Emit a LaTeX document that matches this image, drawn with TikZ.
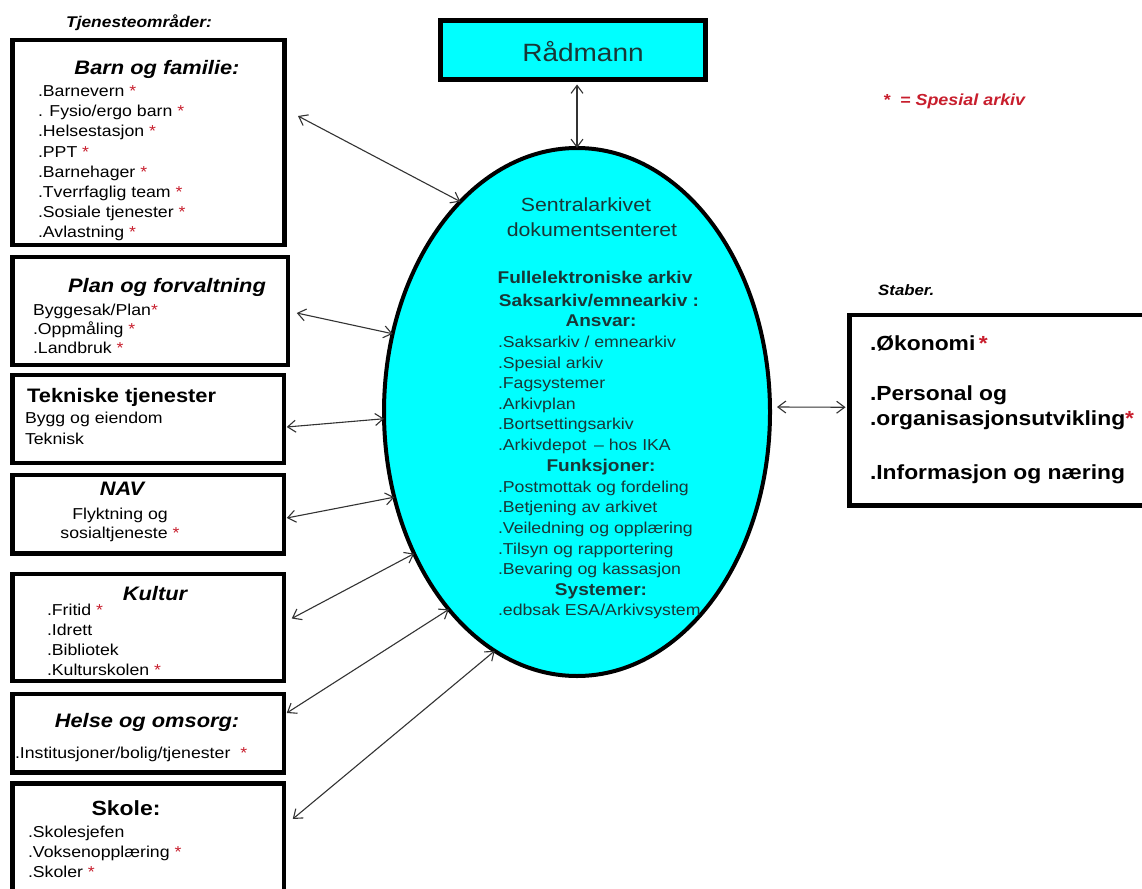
\documentclass[tikz,border=0pt]{standalone}
\usepackage{fontspec}
\setmainfont{Liberation Sans}[FakeStretch=1.12]
\usetikzlibrary{shapes.geometric,arrows.meta}
\definecolor{cyanfill}{RGB}{0,255,255}
\definecolor{specred}{RGB}{200,30,45}
\definecolor{elltext}{RGB}{25,55,55}
\newcommand{\redstar}{\textcolor{specred}{*}}
\tikzset{
  box/.style={draw=black, line width=4.5pt, inner sep=0pt, outer sep=0pt, fill=white},
  it/.style={anchor=base west, inner sep=0pt, outer sep=0pt, font=\fontsize{15.8}{19}\selectfont},
  itc/.style={anchor=base, inner sep=0pt, outer sep=0pt, font=\fontsize{15.8}{19}\selectfont},
  ttl/.style={anchor=base, inner sep=0pt, outer sep=0pt, font=\fontsize{19.5}{23}\selectfont\bfseries\itshape},
  ebold/.style={anchor=base, inner sep=0pt, outer sep=0pt, text=elltext, font=\fontsize{17}{20}\selectfont\bfseries},
  eit/.style={anchor=base west, inner sep=0pt, outer sep=0pt, text=elltext, font=\fontsize{15.8}{19}\selectfont},
  rb/.style={anchor=base west, inner sep=0pt, outer sep=0pt, font=\fontsize{20.4}{24}\selectfont\bfseries},
  conn/.style={{Straight Barb[length=8pt,width=12pt]}-{Straight Barb[length=8pt,width=12pt]}, line width=1.1pt, draw=black!80},
}
\begin{document}
\begin{tikzpicture}[x=1pt,y=-1pt]
\useasboundingbox (0,0) rectangle (1142,888);
\fill[white] (0,0) rectangle (1142,888);

% labels outside
\node[anchor=base, inner sep=0pt, font=\fontsize{15.5}{18}\selectfont\bfseries\itshape] (tjen) at (139,27.6) {Tjenesteområder:};
\node[anchor=base west, inner sep=0pt, font=\fontsize{16}{19}\selectfont\bfseries\itshape, text=specred] (legend) at (883,105.8) {*\ \ = Spesial arkiv};
\node[anchor=base west, inner sep=0pt, font=\fontsize{15}{18}\selectfont\bfseries\itshape] (staberlbl) at (878,295.4) {Staber.};

% Rådmann
\node[box, fill=cyanfill, minimum width=265pt, minimum height=59pt] (rad) at (573,50) {};
\node[anchor=base, inner sep=0pt, text=elltext, font=\fontsize{25}{30}\selectfont] (radtxt) at (583,62) {Rådmann};

% Ellipse
\node[ellipse, draw=black, line width=4pt, fill=cyanfill, inner sep=0pt, outer sep=0pt, minimum width=386pt, minimum height=528pt] (sa) at (577,412) {};
\node[anchor=base, inner sep=0pt, text=elltext, font=\fontsize{19}{23}\selectfont] (sa-t1) at (586,211) {Sentralarkivet};
\node[anchor=base, inner sep=0pt, text=elltext, font=\fontsize{19}{23}\selectfont] (sa-t2) at (592,236) {dokumentsenteret};
\node[ebold] (sa-h1) at (595,283) {Fullelektroniske arkiv};
\node[ebold] (sa-h2) at (599,306.7) {Saksarkiv/emnearkiv :};
\node[ebold] (sa-h3) at (601,326.8) {Ansvar:};
\foreach \t [count=\i] in {{.Saksarkiv / emnearkiv},{.Spesial arkiv},{.Fagsystemer},{.Arkivplan},{.Bortsettingsarkiv},{.Arkivdepot \,– hos IKA}}
  \node[eit] (sa-a\i) at (498,{347.5+20.6*(\i-1)}) {\t};
\node[ebold] (sa-h4) at (601,471.6) {Funksjoner:};
\foreach \t [count=\i] in {{.Postmottak og fordeling},{.Betjening av arkivet},{.Veiledning og opplæring},{.Tilsyn og rapportering},{.Bevaring og kassasjon}}
  \node[eit] (sa-f\i) at (498,{492.2+20.6*(\i-1)}) {\t};
\node[ebold] (sa-h5) at (601,595.2) {Systemer:};
\node[eit] (sa-s1) at (498,615.8) {.edbsak ESA/Arkivsystem};

% Left boxes
\node[box, minimum width=272pt, minimum height=205pt] (barn) at (148.5,142.5) {};
\node[ttl] (barn-t) at (157,75) {Barn og familie:};
\foreach \t [count=\i] in {{.Barnevern \redstar},{. Fysio/ergo barn \redstar},{.Helsestasjon \redstar},{.PPT \redstar},{.Barnehager \redstar},{.Tverrfaglig team \redstar},{.Sosiale tjenester \redstar},{.Avlastning \redstar}}
  \node[it] (barn-\i) at (38,{96.7+20.1*(\i-1)}) {\t};

\node[box, minimum width=275.5pt, minimum height=108pt] (plan) at (150,311) {};
\node[ttl] (plan-t) at (167,292) {Plan og forvaltning};
\node[it] (plan-1) at (33,315.5) {Byggesak/Plan\redstar};
\node[it] (plan-2) at (33,334.5) {.Oppmåling \redstar};
\node[it] (plan-3) at (33,353.5) {.Landbruk \redstar};

\node[box, minimum width=271.5pt, minimum height=88pt] (tek) at (148,419) {};
\node[anchor=base west, inner sep=0pt, font=\fontsize{19.5}{23}\selectfont\bfseries] (tek-t) at (27,402) {Tekniske tjenester};
\node[it] (tek-1) at (25,423.7) {Bygg og eiendom};
\node[it] (tek-2) at (25,444.7) {Teknisk};

\node[box, minimum width=271.5pt, minimum height=78.5pt] (nav) at (148,514) {};
\node[ttl] (nav-t) at (122,495) {NAV};
\node[itc] (nav-1) at (120,519.7) {Flyktning og};
\node[itc] (nav-2) at (120,538.7) {sosialtjeneste \redstar};

\node[box, minimum width=271.5pt, minimum height=107pt] (kul) at (148,627.5) {};
\node[ttl] (kul-t) at (155,600) {Kultur};
\foreach \t [count=\i] in {{.Fritid \redstar},{.Idrett},{.Bibliotek},{.Kulturskolen \redstar}}
  \node[it] (kul-\i) at (47,{615.7+20*(\i-1)}) {\t};

\node[box, minimum width=271.5pt, minimum height=78.5pt] (hel) at (148,733) {};
\node[ttl] (hel-t) at (147,727) {Helse og omsorg:};
\node[it] (hel-1) at (15,758.7) {.Institusjoner/bolig/tjenester \ \redstar};

\node[box, minimum width=271.5pt, minimum height=116.5pt] (sko) at (148,841.75) {};
\node[anchor=base, inner sep=0pt, font=\fontsize{20.5}{24}\selectfont\bfseries] (sko-t) at (126,815) {Skole:};
\foreach \t [count=\i] in {{.Skolesjefen},{.Voksenopplæring \redstar},{.Skoler \redstar}}
  \node[it] (sko-\i) at (28,{837.7+20*(\i-1)}) {\t};

% Right box (Staber)
\node[box, minimum width=296.5pt, minimum height=190.5pt] (stab) at (997.75,410.25) {};
\node[rb] (stab-1) at (870,350) {.Økonomi\,\redstar};
\node[rb] (stab-2) at (870,400) {.Personal og};
\node[rb] (stab-3) at (870,425) {.organisasjonsutvikling\redstar};
\node[rb] (stab-4) at (870,479) {.Informasjon og næring};

% Connectors
\draw[conn] ([shift={(4,5)}]rad.south) -- (sa.north);
\draw[conn] ([shift={(13.5,-26.5)}]barn.east) -- (sa.119.5);
\draw[conn] ([shift={(9,2)}]plan.east) -- (sa.157.3);
\draw[conn] ([shift={(3,8)}]tek.east) -- (sa.182.4);
\draw[conn] ([shift={(3,4)}]nav.east) -- (sa.205.1);
\draw[conn] ([shift={(8,-9)}]kul.east) -- (sa.221.3);
\draw[conn] ([shift={(3,-20)}]hel.east) -- (sa.237.1);
\draw[conn] ([shift={(9,-22.75)}]sko.east) -- (sa.251.6);
\draw[conn] ([shift={(7,-5)}]sa.east) -- ([shift={(-4,-3)}]stab.west);
\end{tikzpicture}
\end{document}
